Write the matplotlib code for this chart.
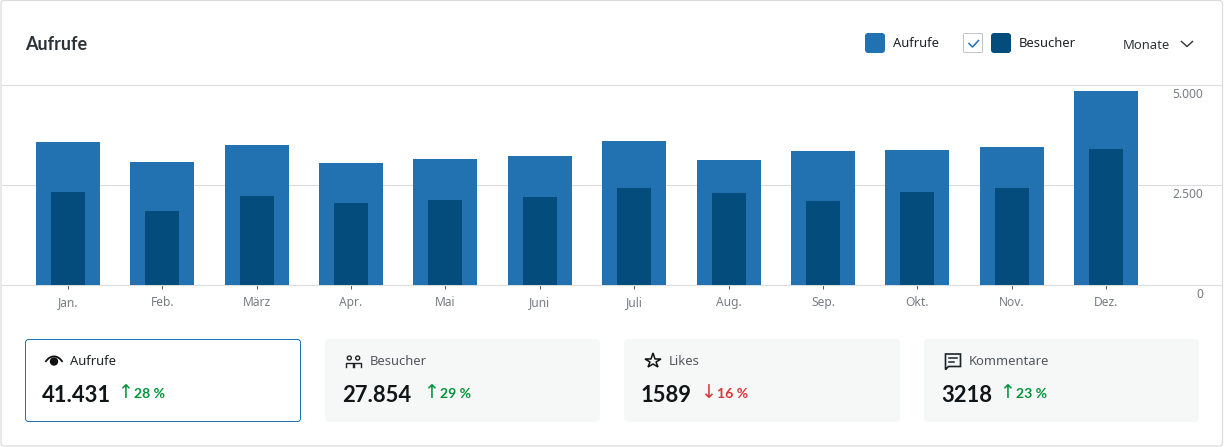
import matplotlib
matplotlib.use('Agg')
import matplotlib.pyplot as plt
from matplotlib.patches import FancyBboxPatch, Circle, PathPatch
from matplotlib.path import Path
from matplotlib.transforms import ScaledTranslation

months = ['Jan.', 'Feb.', 'März', 'Apr.', 'Mai', 'Juni', 'Juli', 'Aug.', 'Sep.', 'Okt.', 'Nov.', 'Dez.']
aufrufe = [3575, 3075, 3510, 3060, 3160, 3225, 3600, 3125, 3350, 3375, 3460, 4850]
besucher = [2325, 1850, 2225, 2050, 2125, 2200, 2425, 2310, 2100, 2325, 2425, 3400]
y_ticks = [0, 2500, 5000]
y_labels = ['0', '2.500', '5.000']

card_names = ['Aufrufe', 'Besucher', 'Likes', 'Kommentare']
card_values = ['41.431', '27.854', '1589', '3218']
card_changes = ['28 %', '29 %', '16 %', '23 %']
card_up = [True, True, False, True]

BLUE = '#2271b1'
DARK = '#044c7b'
GREEN = '#00933a'
RED = '#d63638'
TEXT = '#2c3338'
GREY = '#50575e'
LINE = '#dcdcde'
W, H = 1224, 447
FONT = ['Noto Sans', 'DejaVu Sans']
STEP = 94.36


def px(size):
    return size * 0.72


plt.rcParams['font.family'] = FONT
fig = plt.figure(figsize=(W / 100, H / 100), dpi=100)

# background layer in pixel coordinates
bg = fig.add_axes([0, 0, 1, 1])
bg.set_xlim(0, W)
bg.set_ylim(H, 0)
bg.axis('off')


def rbox(x0, y0, x1, y1, r=3, fc='white', ec='none', lw=0.72, z=1):
    bg.add_patch(FancyBboxPatch((x0 + r, y0 + r), x1 - x0 - 2 * r, y1 - y0 - 2 * r,
                                boxstyle=f'round,pad={r},rounding_size={r}',
                                fc=fc, ec=ec, lw=lw, zorder=z))


# outer card
rbox(1, 0.5, 1222.5, 446, r=3, fc='white', ec=LINE, lw=0.9)

bg.text(25, 44.5, 'Aufrufe', fontsize=px(18), fontweight='bold', family='Lato', color=TEXT, va='center')

# legend and period selector
rbox(865, 33, 885, 53, r=3, fc=BLUE)
bg.text(893, 43.5, 'Aufrufe', fontsize=px(13), color='#1d2327', va='center')
rbox(963.5, 33.5, 982.5, 52.5, r=1, fc='white', ec='#c3c4c7')
bg.plot([969, 972.5, 978.5], [43.5, 47, 40.5], color=BLUE, lw=1.1, zorder=3)
rbox(991, 33, 1011, 53, r=3, fc=DARK)
bg.text(1019, 43.5, 'Besucher', fontsize=px(13), color='#1d2327', va='center')
bg.text(1123, 45.5, 'Monate', fontsize=px(13), color=TEXT, va='center')
bg.plot([1181.5, 1187, 1192.5], [41.5, 46.5, 41.5], color=TEXT, lw=1.0, zorder=3)

# chart: y 0 at pixel 285, 5000 at pixel 85, months STEP px apart from 68
left, right = 2, 1222
ax = fig.add_axes([left / W, 1 - 285 / H, (right - left) / W, 200 / H])
ax.patch.set_alpha(0)
x = list(range(len(months)))
ax.bar(x, aufrufe, width=64 / STEP, color=BLUE, zorder=3)
ax.bar(x, besucher, width=34 / STEP, color=DARK, zorder=4)
ax.set_xlim((left - 68) / STEP, (right - 68) / STEP)
ax.set_ylim(0, 5000)
for s in ax.spines.values():
    s.set_visible(False)
ax.yaxis.grid(True, color=LINE, lw=0.8, zorder=1)
ax.set_axisbelow(True)
for gl in ax.get_ygridlines():
    gl.set_clip_on(False)
ax.set_xticks(x, months)
ax.set_yticks(y_ticks, y_labels)
ax.tick_params(axis='x', length=3, width=0.7, color='#50575e', pad=5, labelsize=px(12), labelcolor='#787c82')
ax.tick_params(axis='y', length=0, left=False, right=False, labelleft=False, labelright=True,
               pad=px(-19), labelsize=px(12), labelcolor='#787c82')
shift = ScaledTranslation(0, -10 / 100, fig.dpi_scale_trans)
for lab in ax.get_yticklabels():
    lab.set_ha('right')
    lab.set_va('center')
    lab.set_transform(lab.get_transform() + shift)

# stat cards
card_x = [(25, 301), (325, 600), (624, 900), (924, 1199)]
icon_x = [54, 353.5, 653, 953]
label_x = [70, 370, 669, 969]
value_x = [42, 342, 641, 941]
arrow_x = [125, 431, 708, 1007]
pct_x = [134, 440, 717, 1016]


def eye(cx, cy):
    verts = [(cx - 8.5, cy + 1), (cx - 4, cy - 6.5), (cx + 4, cy - 6.5), (cx + 8.5, cy + 1)]
    codes = [Path.MOVETO] + [Path.CURVE4] * 3
    bg.add_patch(PathPatch(Path(verts, codes), fc='none', ec='#111111', lw=1.3, zorder=3))
    bg.add_patch(Circle((cx, cy + 0.5), 4.2, fc='#111111', ec='none', zorder=3))


def people(cx, cy):
    for dx in (-4.2, 4.2):
        bg.add_patch(Circle((cx + dx, cy - 3), 2, fc='none', ec='#1d2327', lw=1.0, zorder=3))
        bg.plot([cx + dx - 3.5, cx + dx - 3.5, cx + dx + 3.5, cx + dx + 3.5],
                [cy + 5.5, cy + 2, cy + 2, cy + 5.5], color='#1d2327', lw=1.0, zorder=3)


def star(cx, cy):
    bg.plot([cx], [cy], marker='*', ms=11.5, mfc='none', mec='#111111', mew=1.1, zorder=3)


def comment(cx, cy):
    verts = [(cx - 7.5, cy + 8.5), (cx - 7.5, cy - 7), (cx + 7.5, cy - 7), (cx + 7.5, cy + 5.5),
             (cx - 4.5, cy + 5.5), (cx - 7.5, cy + 8.5)]
    bg.add_patch(PathPatch(Path(verts), fc='none', ec='#1d2327', lw=1.2, zorder=3))
    bg.plot([cx - 4, cx + 4], [cy - 3, cy - 3], color='#1d2327', lw=1.1, zorder=3)
    bg.plot([cx - 4, cx + 1], [cy + 1, cy + 1], color='#1d2327', lw=1.1, zorder=3)


icons = [eye, people, star, comment]

for i, name in enumerate(card_names):
    x0, x1 = card_x[i]
    if i == 0:
        rbox(x0 + 0.5, 339.5, x1 - 0.5, 421.5, r=3, fc='white', ec=BLUE)
    else:
        rbox(x0, 339, x1, 422, r=4, fc='#f6f7f7')
    icons[i](icon_x[i], 361)
    bg.text(label_x[i], 361.5, name, fontsize=px(13), va='center',
            color='#1d2327' if i == 0 else GREY)
    bg.text(value_x[i], 395, card_values[i], fontsize=px(22), fontweight='bold', family='Lato',
            color='#101517', va='center')
    col = GREEN if card_up[i] else RED
    bg.text(arrow_x[i], 393, '↑' if card_up[i] else '↓', fontsize=px(19), color=col,
            ha='center', va='center', family='DejaVu Sans')
    bg.text(pct_x[i], 394.5, card_changes[i], fontsize=px(14), fontweight='bold', family='Lato',
            color=col, va='center')

fig.savefig('out.png', dpi=100)
